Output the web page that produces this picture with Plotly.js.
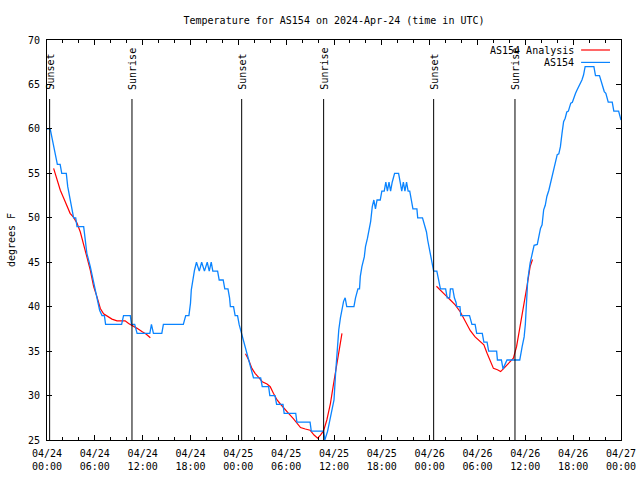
<!DOCTYPE html>
<html>
<head>
<meta charset="utf-8">
<script src="https://cdn.plot.ly/plotly-3.0.1.min.js"></script>
<style>html,body{margin:0;padding:0;background:#fff;}#chart{width:640px;height:480px;}</style>
</head>
<body>
<div id="chart"></div>
<script>
// hours since 2024-04-24 00:00 UTC
const baseDate = Date.UTC(2024, 3, 24, 0, 0, 0);

const obsHours = [0,0.4,1.3,1.65,1.85,2.42,2.6,2.9,3.1,3.34,3.6,3.76,4.6,4.8,5.0,5.43,5.85,6.27,6.6,6.9,7.2,7.35,9.36,9.6,10.45,10.6,11.0,11.3,12.9,13.1,13.35,14.4,14.6,17.1,17.4,17.8,18.0,18.1,18.3,18.5,18.75,19.1,19.4,19.75,20.1,20.35,20.6,20.8,21.4,21.6,22.1,22.3,22.7,22.9,23.0,23.4,23.6,23.9,24.1,24.4,24.7,25.0,25.3,25.6,25.9,26.8,27.0,27.8,27.95,28.6,28.8,29.6,29.75,31.2,31.35,33.0,33.15,34.7,34.85,35.2,35.45,35.8,36.0,36.2,36.4,36.6,36.8,37.0,37.2,37.4,37.6,38.5,38.7,39.0,39.2,39.3,39.5,39.8,39.95,40.2,40.4,40.6,40.8,41.0,41.2,41.4,41.8,42.0,42.3,42.5,42.7,42.9,43.1,43.3,43.6,44.1,44.3,44.5,44.7,44.9,45.1,45.3,45.5,45.7,45.9,46.4,46.5,47.1,47.3,47.6,47.75,48.0,48.2,48.4,48.5,48.9,49.1,49.35,50.0,50.2,50.5,50.6,50.9,51.1,51.3,51.4,51.8,51.9,53.0,53.3,53.7,53.9,54.6,54.8,55.2,55.4,56.4,56.5,57.0,57.2,57.7,59.3,59.6,59.85,60.0,60.15,60.3,60.6,60.9,61.1,61.5,61.7,61.9,62.1,62.3,62.5,62.7,62.95,63.15,63.4,63.6,63.8,64.0,64.2,64.4,64.6,64.8,65.0,65.2,65.4,65.7,65.9,66.1,66.3,66.5,66.7,66.9,67.1,67.3,67.4,67.5,68.6,68.8,69.3,69.6,69.9,70.1,70.3,70.4,70.9,71.1,71.7,71.9,72.0];
const obsTemps = [60,60,56,56,55,55,53.5,52,51,50,50,49,49,47.5,46,44.5,42.6,40.7,39.6,39,39,38,38,39,39,38,38,37,37,38,37,37,38,38,39,39,40.4,41.9,43.2,44.1,45,44,45,44,45,44,45,44,44,43,43,42,42,41,40,40,39,39,38,37,36,35,34,33,32,32,31,31,30,30,29,29,28,28,27,27,26,26,25,26,27,28.5,29.5,32.5,35.1,37.4,38.7,39.6,40.6,41,40,40,41,42,42,43.4,44.5,45.6,46.75,47.7,48.6,49.6,51.25,52,51,52,52,53,53,54,53,54,53,54,55,55,54,53,54,53,54,53,53,52,51,51,50,50,49.4,48.4,47.5,46.4,45.6,44.5,44,44,43,42,42,41,41,42,42,41,40.5,40,40,39,39,38,38,37,37,36,36,35,35,34,34,33,34,34,35.5,36.6,38,40.5,43,44.9,46,46.9,47,47.9,48.8,49.2,50.9,51.4,52.4,53.1,53.9,54.6,55.6,56.5,57.1,57.2,58,59.5,60.8,61.2,61.9,62,62.9,63,63.6,64,64.4,64.75,65.1,65.5,66.06,66.6,67,67,66,66,65.1,64.2,64,63.2,63,63,62,62,61.2,61];

const anaHours = [0.83,1.25,1.67,2.1,2.5,2.9,3.34,3.76,4.18,4.6,5.0,5.43,5.85,6.27,6.69,7.1,7.5,8.15,8.78,9.4,9.8,10.24,10.66,11.3,11.9,12.46,12.96,
  13.5,
  24.9,25.3,25.7,26.1,26.55,27.0,27.6,28.0,28.4,28.86,29.27,29.7,30.3,30.9,31.4,31.8,32.4,33.0,33.5,33.95,34.3,34.7,35.1,35.55,35.96,36.4,36.8,37.0,
  40.0,
  48.85,49.35,49.97,50.6,51.2,51.85,52.5,53.1,53.7,54.35,54.8,55.2,55.6,56.0,56.5,56.9,57.3,57.9,58.5,58.9,59.35,59.76,60.2,60.6,60.9];
const anaTemps = [55.56,54.25,53.1,52.2,51.25,50.5,50.05,49.4,48.4,47.1,45.6,44.1,42.25,41.1,39.8,39.2,38.95,38.6,38.4,38.4,38.4,38.1,37.9,37.56,37.2,36.9,36.5,
  null,
  34.7,34.0,33.06,32.5,32.05,31.56,31.3,31.0,30.25,29.5,29.05,28.56,28.0,27.4,26.9,26.4,26.24,26.1,25.56,25.2,25.56,26.05,27.25,29.1,31.4,33.6,35.9,37.0,
  null,
  42.3,41.9,41.3,40.75,40.2,39.4,38.3,37.3,36.6,36.06,35.7,34.75,33.8,33.06,32.9,32.7,33.06,33.6,34.2,35.5,37.75,40.0,42.25,44.5,45.3];

const sunLabels = ["Sunset","Sunrise","Sunset","Sunrise","Sunset","Sunrise"];
const sunHours = [0.33,10.66,24.42,34.7,48.5,58.7];

const seriesNames = ["AS154 Analysis","AS154"];
const seriesColors = ["#ff0000","#0a84ff"];

function toDate(h) {
  if (h === null) return null;
  const d = new Date(baseDate + h * 3600000);
  return d.toISOString().slice(0,19).replace('T',' ');
}

const font = "DejaVu Sans Mono, monospace";

const traces = [
  {x: anaHours.map(toDate), y: anaTemps, type: 'scatter', mode: 'lines', name: seriesNames[0],
   line: {color: seriesColors[0], width: 1.2}, connectgaps: false},
  {x: obsHours.map(toDate), y: obsTemps, type: 'scatter', mode: 'lines', name: seriesNames[1],
   line: {color: seriesColors[1], width: 1.3}}
];

const shapes = [];
const annotations = [];
sunHours.forEach((h, i) => {
  shapes.push({type: 'line', xref: 'x', yref: 'paper', x0: toDate(h), x1: toDate(h), y0: 0, y1: 0.8525,
    line: {color: '#000', width: 1}});
  annotations.push({xref: 'x', yref: 'paper', x: toDate(h), y: 0.87, text: sunLabels[i], textangle: -90,
    showarrow: false, xanchor: 'center', yanchor: 'bottom', font: {family: font, size: 10, color: '#000'}});
});
// legend (gnuplot style: text left, sample right)
const legY = [0.975, 0.944];
seriesNames.forEach((n, i) => {
  annotations.push({xref: 'paper', yref: 'paper', x: 0.921, y: legY[i], text: n, showarrow: false,
    xanchor: 'right', yanchor: 'middle', font: {family: font, size: 10, color: '#000'}});
  shapes.push({type: 'line', xref: 'paper', yref: 'paper', x0: 0.9305, x1: 0.9808, y0: legY[i], y1: legY[i],
    line: {color: seriesColors[i], width: 1.2}});
});

const layout = {
  width: 640, height: 480,
  margin: {l: 47, r: 19, t: 40, b: 40},
  paper_bgcolor: '#fff', plot_bgcolor: '#fff',
  showlegend: false,
  font: {family: font, size: 10, color: '#000'},
  title: {text: "Temperature for AS154 on 2024-Apr-24 (time in UTC)", xref: 'paper', x: 0.5, y: 0.958,
    yanchor: 'middle', font: {family: font, size: 10, color: '#000'}},
  xaxis: {
    type: 'date', range: [toDate(0), toDate(72)],
    dtick: 6 * 3600000, tick0: toDate(0), tickformat: '%m/%d<br>%H:%M',
    ticks: 'inside', ticklen: 5, tickcolor: '#000', tickwidth: 1,
    minor: {dtick: 2 * 3600000, ticks: 'inside', ticklen: 3, tickcolor: '#000', tickwidth: 1, showgrid: false},
    showline: true, linecolor: '#000', linewidth: 1, mirror: 'allticks',
    showgrid: false, zeroline: false,
    ticklabelstandoff: 4,
    tickfont: {family: font, size: 10, color: '#000'}
  },
  yaxis: {
    range: [25, 70], dtick: 5, tick0: 25,
    ticks: 'inside', ticklen: 5, tickcolor: '#000', tickwidth: 1,
    showline: true, linecolor: '#000', linewidth: 1, mirror: 'allticks',
    showgrid: false, zeroline: false,
    ticklabelstandoff: 4,
    tickfont: {family: font, size: 10, color: '#000'},
    title: {text: 'degrees F', font: {family: font, size: 10, color: '#000'}, standoff: 10}
  },
  shapes: shapes,
  annotations: annotations
};

Plotly.newPlot('chart', traces, layout, {displayModeBar: false, staticPlot: true});
</script>
</body>
</html>
